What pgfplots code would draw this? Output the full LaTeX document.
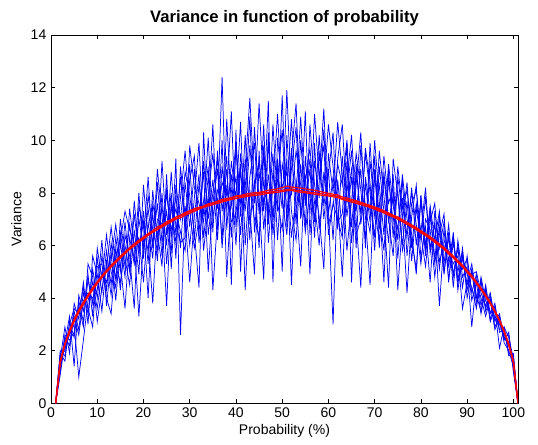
\documentclass[border=0pt]{standalone}
\usepackage{fontspec}
\setmainfont{Liberation Sans}
\usepackage{pgfplots}
\pgfplotsset{compat=1.18}
\usepackage{pgfplotstable}

% x = probability in %, b1..b8 noisy estimates (blue), r1..r3 smooth estimates (red)
\pgfplotstableread{
x   b1   b2   b3   b4   b5   b6   b7   b8   r1   r2   r3
1   0    0    0    0    0    0    0    0    0    0    0
2   1.2  1.9  1.5  1.7  1.1  2.0  1.4  1.8  1.55 1.62 1.58
3   2.5  1.6  2.1  2.9  2.3  1.8  2.6  2.0  2.20 2.28 2.25
4   2.2  3.1  2.6  1.9  3.3  2.8  2.4  3.0  2.70 2.78 2.68
5   3.5  2.5  3.0  3.8  1.4  3.3  2.7  3.6  3.10 3.20 3.15
6   2.8  3.9  1.0  3.2  4.1  2.6  3.7  3.4  3.45 3.55 3.50
7   4.2  3.1  2.4  4.6  3.5  3.9  2.9  4.4  3.78 3.85 3.75
8   3.4  4.7  3.9  3.0  4.9  4.2  5.3  3.6  4.05 4.12 4.10
9   5.1  3.8  4.6  5.6  3.3  4.0  4.8  2.9  4.30 4.40 4.35
10  4.0  5.5  3.6  4.9  5.9  4.3  3.1  5.2  4.55 4.62 4.60
11  5.6  4.2  5.0  3.5  4.7  6.2  4.4  5.3  4.78 4.85 4.80
12  4.3  5.8  4.6  5.4  6.4  3.7  5.1  4.0  5.00 5.05 4.98
13  6.1  4.5  5.7  4.1  5.0  5.5  6.7  3.4  5.18 5.25 5.20
14  4.7  6.3  3.9  5.9  4.4  6.8  5.2  5.6  5.35 5.42 5.40
15  6.5  5.0  6.1  4.3  7.0  5.3  4.6  6.2  5.52 5.60 5.55
16  5.2  6.9  4.8  6.4  5.5  3.6  6.0  7.3  5.70 5.75 5.68
17  6.8  5.1  7.4  5.6  4.5  6.3  5.0  6.6  5.85 5.92 5.88
18  5.4  7.2  5.9  3.6  6.6  5.3  7.7  6.1  6.00 6.06 5.98
19  7.0  5.6  6.3  7.5  4.9  8.0  5.8  3.3  6.12 6.20 6.15
20  5.9  7.3  4.6  6.7  8.3  5.5  6.9  6.2  6.25 6.32 6.30
21  7.4  5.3  6.9  5.8  6.2  7.9  4.0  8.6  6.38 6.45 6.40
22  6.0  8.1  5.5  7.2  3.8  6.6  7.6  5.9  6.50 6.56 6.52
23  7.6  6.2  8.4  5.4  7.0  5.8  6.5  8.9  6.60 6.70 6.62
24  5.6  7.5  6.1  8.0  6.8  9.2  5.2  7.1  6.70 6.78 6.75
25  8.2  6.0  7.3  5.3  7.9  6.4  8.7  3.7  6.80 6.90 6.85
26  6.3  8.8  5.7  7.5  6.6  8.0  5.1  7.7  6.90 6.98 6.95
27  7.9  6.4  9.3  6.1  7.4  5.5  8.3  6.8  7.00 7.08 7.02
28  5.9  8.6  2.6  7.8  6.5  9.0  7.0  6.1  7.05 7.15 7.12
29  8.4  6.6  7.5  9.6  5.8  7.1  8.8  6.3  7.15 7.25 7.20
30  6.7  9.1  6.0  7.3  8.5  4.6  7.9  9.8  7.22 7.32 7.28
31  8.9  6.2  7.8  5.9  9.4  7.1  6.5  8.2  7.30 7.40 7.35
32  6.4  8.3  9.9  7.0  6.1  8.7  4.4  7.6  7.38 7.45 7.42
33  9.2  7.2  6.3  8.8  7.7  5.8  10.3 6.9  7.45 7.50 7.48
34  7.0  10.1 7.9  5.0  9.0  7.5  6.4  8.6  7.50 7.58 7.55
35  8.5  6.5  9.5  7.6  4.3  10.6 8.0  7.1  7.55 7.62 7.60
36  6.2  9.6  7.4  8.9  7.0  6.6  9.3  8.1  7.60 7.68 7.65
37  9.0  7.3  12.4 6.1  8.4  10.0 5.9  7.7  7.65 7.75 7.70
38  7.4  8.9  6.6  10.8 7.9  4.8  8.2  9.4  7.70 7.78 7.74
39  8.7  6.3  9.2  7.5  11.1 8.0  6.9  4.5  7.75 7.82 7.80
40  6.0  9.7  7.8  8.6  6.7  9.9  7.2  10.4 7.78 7.88 7.85
41  9.5  7.1  10.7 6.4  8.8  7.6  9.1  5.0  7.82 7.90 7.86
42  7.7  10.2 6.0  9.3  7.3  8.5  4.3  8.9  7.85 7.95 7.90
43  10.9 6.8  8.6  7.4  9.8  6.2  8.1  11.6 7.88 7.98 7.92
44  6.5  8.4  9.9  4.9  7.6  10.5 7.0  8.3  7.90 8.00 7.95
45  8.8  5.9  7.2  9.6  11.4 7.7  6.3  9.2  7.92 8.02 7.98
46  7.3  9.5  10.6 6.6  8.2  4.7  9.8  7.5  7.95 8.05 8.00
47  9.9  7.0  6.1  8.7  7.4  10.3 6.8  11.5 7.98 8.10 8.02
48  6.4  10.6 8.3  7.1  9.5  6.9  8.8  4.6  8.00 8.12 8.05
49  8.5  7.6  11.0 9.3  6.2  8.9  7.3  10.1 8.02 8.15 8.08
50  10.4 6.6  7.8  5.0  9.1  7.4  11.7 8.2  8.05 8.20 8.10
51  7.1  9.3  6.4  10.2 8.0  11.9 6.7  8.8  8.08 8.25 8.12
52  9.7  4.5  8.9  7.3  10.8 7.9  9.4  6.3  8.10 8.22 8.15
53  6.8  8.5  10.5 6.2  7.7  9.6  11.4 7.9  8.05 8.20 8.10
54  10.0 7.4  7.0  9.1  5.2  8.3  7.1  10.9 8.02 8.18 8.08
55  7.5  11.1 8.4  6.7  9.4  6.5  8.7  7.7  8.00 8.15 8.05
56  8.9  6.4  9.7  10.6 7.2  8.1  4.9  9.3  7.98 8.12 8.02
57  6.3  9.2  7.6  8.3  11.0 7.0  9.9  6.9  7.95 8.10 8.00
58  9.6  7.8  6.0  7.1  8.6  10.2 6.6  8.4  7.92 8.06 7.98
59  7.0  10.4 8.8  5.1  9.8  7.5  8.2  11.2 7.90 8.02 7.95
60  8.7  6.8  7.3  9.5  6.4  8.9  10.6 7.2  7.88 7.98 7.92
61  10.3 7.5  3.0  8.0  7.6  6.2  9.0  8.6  7.85 7.95 7.90
62  6.6  9.1  8.5  10.7 7.0  9.3  6.9  7.8  7.82 7.92 7.86
63  9.4  8.3  6.5  8.7  6.3  10.6 7.2  4.8  7.75 7.84 7.78
64  7.1  10.0 8.0  5.8  9.2  7.6  9.9  8.5  7.70 7.80 7.74
65  8.6  6.7  9.6  7.7  6.1  8.9  4.6  10.2 7.65 7.75 7.70
66  5.9  8.8  7.0  9.5  8.3  6.4  9.1  7.3  7.60 7.70 7.66
67  9.8  7.2  4.4  8.1  10.3 7.0  6.8  8.9  7.55 7.64 7.60
68  7.4  9.5  8.6  6.2  7.1  9.7  8.3  5.9  7.50 7.58 7.55
69  6.5  8.0  7.3  9.9  4.5  8.4  6.9  9.2  7.44 7.52 7.48
70  8.9  6.3  9.4  7.1  8.7  5.8  10.0 7.5  7.38 7.46 7.42
71  7.2  9.6  5.9  8.3  6.6  9.0  7.7  6.1  7.30 7.40 7.35
72  5.8  7.9  8.8  6.4  9.4  7.3  4.6  8.6  7.24 7.32 7.28
73  8.5  6.1  7.0  9.1  7.6  4.4  8.9  6.9  7.15 7.24 7.20
74  6.9  8.7  5.6  7.5  8.2  9.3  6.3  7.8  7.08 7.15 7.12
75  8.1  5.5  8.6  6.6  4.3  7.9  9.0  6.2  7.00 7.08 7.04
76  6.0  7.8  7.2  8.7  6.9  5.8  7.4  8.5  6.90 6.98 6.95
77  7.7  6.3  4.2  7.0  8.4  6.6  8.1  5.6  6.80 6.88 6.85
78  5.4  8.2  7.1  6.2  5.9  8.0  6.4  7.6  6.70 6.78 6.75
79  7.4  6.0  8.3  5.1  7.6  6.8  4.9  8.1  6.60 6.68 6.64
80  6.2  7.7  5.5  7.9  6.5  5.3  7.9  6.4  6.48 6.56 6.52
81  7.8  5.6  6.7  6.0  8.2  7.0  5.8  5.2  6.38 6.45 6.40
82  5.9  7.2  4.6  7.4  5.7  6.6  7.5  6.9  6.25 6.33 6.28
83  6.8  5.3  7.3  5.5  6.9  4.8  6.2  7.6  6.12 6.20 6.15
84  5.1  6.7  5.9  7.1  3.7  6.4  7.3  5.4  5.98 6.06 6.00
85  6.6  5.0  6.9  4.9  6.2  7.2  5.3  6.0  5.85 5.92 5.88
86  4.7  6.3  5.4  6.5  5.8  4.6  6.8  5.2  5.68 5.76 5.70
87  6.1  4.9  6.4  4.4  5.3  6.5  4.8  6.3  5.52 5.60 5.56
88  5.0  5.9  4.3  6.2  5.6  4.5  6.0  4.7  5.35 5.42 5.38
89  5.8  4.4  5.5  4.8  3.6  5.9  5.1  5.6  5.18 5.25 5.20
90  4.3  5.6  4.9  5.2  4.6  4.0  5.5  4.5  4.98 5.05 5.00
91  5.1  4.2  4.4  2.9  5.3  4.9  3.9  5.0  4.78 4.85 4.80
92  4.0  4.9  3.6  4.7  4.1  5.0  4.6  3.8  4.55 4.62 4.58
93  4.6  3.7  4.8  4.0  3.5  4.2  3.4  4.7  4.32 4.38 4.35
94  3.6  4.4  3.9  3.3  4.5  3.7  4.3  3.5  4.05 4.12 4.08
95  4.1  3.2  3.5  4.0  3.4  4.2  3.1  3.9  3.78 3.84 3.80
96  3.1  3.7  3.3  2.9  3.8  3.2  3.6  2.8  3.46 3.52 3.50
97  3.4  2.8  3.0  3.3  2.7  3.1  2.1  3.2  3.12 3.18 3.14
98  2.5  2.9  2.6  2.4  2.8  2.5  2.9  2.3  2.70 2.76 2.72
99  2.6  1.9  2.3  2.7  1.8  2.2  2.5  2.0  2.20 2.28 2.24
100 1.3  1.8  1.6  1.2  1.9  1.5  1.7  1.4  1.55 1.62 1.58
101 0    0    0    0    0    0    0    0    0    0    0
}\vardata

\begin{document}
\begin{tikzpicture}
\begin{axis}[
  scale only axis, width=350pt, height=276pt,
  xmin=0, xmax=101, ymin=0, ymax=14,
  xtick={0,10,...,100}, ytick={0,2,...,14},
  tick align=inside, major tick length=3pt,
  tick style={black, line width=0.4pt},
  axis line style={black, line width=0.5pt},
  title={\bfseries Variance in function of probability},
  title style={font=\fontsize{12.5}{14}\selectfont, yshift=-3pt},
  xlabel={Probability (\%)}, ylabel={Variance},
  label style={font=\fontsize{10.5}{12}\selectfont},
  xlabel style={yshift=2pt},
  tick label style={font=\fontsize{10.5}{12}\selectfont},
  /pgf/number format/assume math mode=true,
]
\addplot[blue, line width=0.55pt] table[x=x, y=b1] {\vardata};
\addplot[blue, line width=0.55pt] table[x=x, y=b2] {\vardata};
\addplot[blue, line width=0.55pt] table[x=x, y=b3] {\vardata};
\addplot[blue, line width=0.55pt] table[x=x, y=b4] {\vardata};
\addplot[blue, line width=0.55pt] table[x=x, y=b5] {\vardata};
\addplot[blue, line width=0.55pt] table[x=x, y=b6] {\vardata};
\addplot[blue, line width=0.55pt] table[x=x, y=b7] {\vardata};
\addplot[blue, line width=0.55pt] table[x=x, y=b8] {\vardata};
\addplot[red, line width=0.9pt] table[x=x, y=r1] {\vardata};
\addplot[red, line width=0.9pt] table[x=x, y=r2] {\vardata};
\addplot[red, line width=0.9pt] table[x=x, y=r3] {\vardata};
\end{axis}
\path[use as bounding box] ([shift={(-38.25pt,-30.75pt)}]current axis.south west)
  rectangle ([shift={(15pt,26.25pt)}]current axis.north east);
\end{tikzpicture}
\end{document}
